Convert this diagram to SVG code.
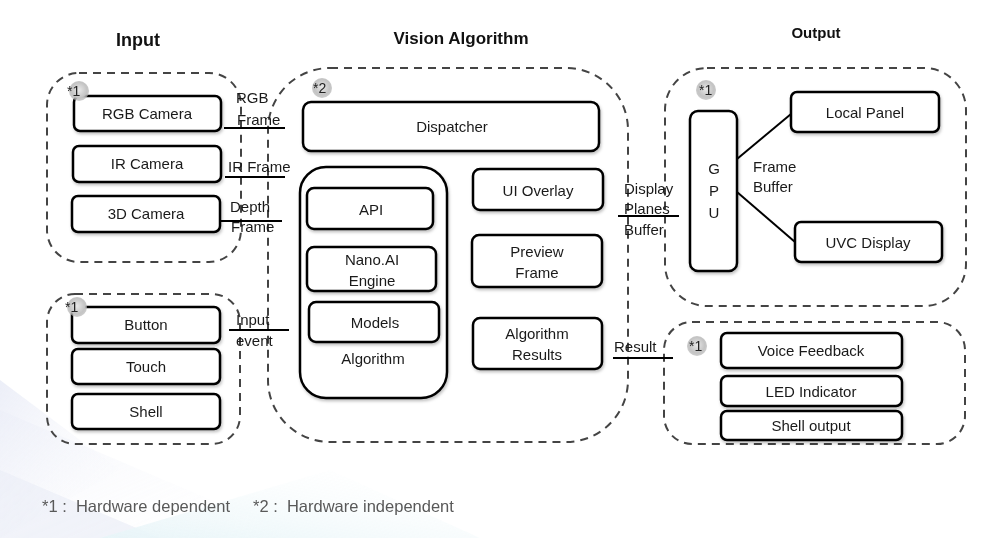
<svg xmlns="http://www.w3.org/2000/svg" width="1003" height="538" viewBox="0 0 1003 538">
<style>
  text { font-family: "Liberation Sans", Arial, sans-serif; fill: #1a1a1a; }
  .t { font-size: 15px; text-anchor: middle; }
  .lbl { font-size: 15px; }
  .title { font-size: 17px; font-weight: bold; text-anchor: middle; fill: #111; }
  .grp { fill: none; stroke: #444; stroke-width: 2; stroke-dasharray: 8 6; }
  .box { fill: #fff; stroke: #000; stroke-width: 2.5; filter: url(#sh); }
  .ln { stroke: #000; stroke-width: 2; fill: none; }
  .badge { fill: url(#bg); }
  .bt { font-size: 14px; fill: #222; }
  .foot { font-size: 16.5px; fill: #595959; }
</style>
<defs>
  <filter id="sh" x="-10%" y="-10%" width="130%" height="140%">
    <feDropShadow dx="1" dy="2" stdDeviation="1.5" flood-color="#000" flood-opacity="0.25"/>
  </filter>
  <radialGradient id="bg" cx="50%" cy="45%" r="55%">
    <stop offset="0" stop-color="#e8e8e8"/>
    <stop offset="0.7" stop-color="#c4c4c4"/>
    <stop offset="1" stop-color="#b0b0b0" stop-opacity="0.6"/>
  </radialGradient>
  <linearGradient id="bgf" x1="0" y1="0" x2="1" y2="1">
    <stop offset="0" stop-color="#dfe3f3"/>
    <stop offset="1" stop-color="#ffffff" stop-opacity="0"/>
  </linearGradient>
  <linearGradient id="bgf2" x1="0" y1="1" x2="1" y2="0">
    <stop offset="0" stop-color="#d2ecf2"/>
    <stop offset="1" stop-color="#ffffff" stop-opacity="0"/>
  </linearGradient>
</defs>
<rect width="1003" height="538" fill="#fff"/>
<g id="background" opacity="0.6">
  <polygon points="0,380 120,470 0,538" fill="url(#bgf)"/>
  <polygon points="0,470 160,538 0,538" fill="#d9def0" opacity="0.7"/>
  <polygon points="100,538 330,470 480,538" fill="url(#bgf2)"/>
  <polygon points="0,410 300,538 0,538" fill="url(#bgf)" opacity="0.6"/>
</g>

<g id="titles">
  <text class="title" x="138" y="46" style="font-size:18px">Input</text>
  <text class="title" x="461" y="44">Vision Algorithm</text>
  <text class="title" x="816" y="38" style="font-size:15px">Output</text>
</g>

<g id="groups">
  <rect id="input-cameras" class="grp" x="47" y="73" width="194" height="189" rx="32"/>
  <rect id="input-events" class="grp" x="47" y="294" width="193" height="150" rx="28"/>
  <rect id="vision-algorithm" class="grp" x="268" y="68" width="360" height="374" rx="62"/>
  <rect id="output-display" class="grp" x="665" y="68" width="301" height="238" rx="42"/>
  <rect id="output-feedback" class="grp" x="664" y="322" width="301" height="122" rx="28"/>
</g>

<g id="connectors">
  <line class="ln" x1="224" y1="128" x2="285" y2="128"/>
  <line class="ln" x1="225" y1="177" x2="285" y2="177"/>
  <line class="ln" x1="220" y1="221" x2="282" y2="221"/>
  <line class="ln" x1="229" y1="330" x2="289" y2="330"/>
  <line class="ln" x1="618" y1="216" x2="679" y2="216"/>
  <line class="ln" x1="613" y1="358" x2="673" y2="358"/>
  <line class="ln" x1="737" y1="159" x2="791" y2="114"/>
  <line class="ln" x1="737" y1="192" x2="795" y2="242"/>
  <text class="lbl" x="236" y="103">RGB</text>
  <text class="lbl" x="237" y="125">Frame</text>
  <text class="lbl" x="228" y="172">IR Frame</text>
  <text class="lbl" x="230" y="212">Depth</text>
  <text class="lbl" x="231" y="232">Frame</text>
  <text class="lbl" x="236" y="325">Input</text>
  <text class="lbl" x="236" y="346">event</text>
  <text class="lbl" x="624" y="194">Display</text>
  <text class="lbl" x="624" y="214">Planes</text>
  <text class="lbl" x="624" y="235">Buffer</text>
  <text class="lbl" x="614" y="352">Result</text>
  <text class="lbl" x="753" y="172">Frame</text>
  <text class="lbl" x="753" y="192">Buffer</text>
</g>

<g id="rgb-camera"><rect class="box" x="74" y="96" width="147" height="35" rx="6"/><text class="t" x="147" y="119">RGB Camera</text></g>
<g id="ir-camera"><rect class="box" x="73" y="146" width="148" height="36" rx="6"/><text class="t" x="147" y="169">IR Camera</text></g>
<g id="3d-camera"><rect class="box" x="72" y="196" width="148" height="36" rx="6"/><text class="t" x="146" y="219">3D Camera</text></g>

<g id="button"><rect class="box" x="72" y="307" width="148" height="36" rx="6"/><text class="t" x="146" y="330">Button</text></g>
<g id="touch"><rect class="box" x="72" y="349" width="148" height="35" rx="6"/><text class="t" x="146" y="372">Touch</text></g>
<g id="shell"><rect class="box" x="72" y="394" width="148" height="35" rx="6"/><text class="t" x="146" y="417">Shell</text></g>

<g id="dispatcher"><rect class="box" x="303" y="102" width="296" height="49" rx="8"/><text class="t" x="452" y="132">Dispatcher</text></g>
<g id="algorithm"><rect class="box" x="300" y="167" width="147" height="231" rx="26"/><text class="t" x="373" y="364">Algorithm</text></g>
<g id="api"><rect class="box" x="307" y="188" width="126" height="41" rx="7"/><text class="t" x="371" y="215">API</text></g>
<g id="nano-ai-engine"><rect class="box" x="307" y="247" width="129" height="44" rx="7"/><text class="t" x="372" y="265">Nano.AI</text><text class="t" x="372" y="286">Engine</text></g>
<g id="models"><rect class="box" x="309" y="302" width="130" height="40" rx="7"/><text class="t" x="375" y="328">Models</text></g>
<g id="ui-overlay"><rect class="box" x="473" y="169" width="130" height="41" rx="7"/><text class="t" x="538" y="196">UI Overlay</text></g>
<g id="preview-frame"><rect class="box" x="472" y="235" width="130" height="52" rx="7"/><text class="t" x="537" y="257">Preview</text><text class="t" x="537" y="278">Frame</text></g>
<g id="algorithm-results"><rect class="box" x="473" y="318" width="129" height="51" rx="7"/><text class="t" x="537" y="339">Algorithm</text><text class="t" x="537" y="360">Results</text></g>

<g id="gpu"><rect class="box" x="690" y="111" width="47" height="160" rx="8"/><text class="t" x="714" y="174">G</text><text class="t" x="714" y="196">P</text><text class="t" x="714" y="218">U</text></g>
<g id="local-panel"><rect class="box" x="791" y="92" width="148" height="40" rx="6"/><text class="t" x="865" y="118">Local Panel</text></g>
<g id="uvc-display"><rect class="box" x="795" y="222" width="147" height="40" rx="6"/><text class="t" x="868" y="248">UVC Display</text></g>

<g id="voice-feedback"><rect class="box" x="721" y="333" width="181" height="35" rx="6"/><text class="t" x="811" y="356">Voice Feedback</text></g>
<g id="led-indicator"><rect class="box" x="721" y="376" width="181" height="30" rx="6"/><text class="t" x="811" y="397">LED Indicator</text></g>
<g id="shell-output"><rect class="box" x="721" y="411" width="181" height="29" rx="6"/><text class="t" x="811" y="431">Shell output</text></g>

<g id="badges">
  <circle class="badge" cx="79" cy="91" r="10"/><text class="bt" x="67" y="96">*1</text>
  <circle class="badge" cx="77" cy="307" r="10"/><text class="bt" x="65" y="312">*1</text>
  <circle class="badge" cx="322" cy="88" r="10"/><text class="bt" x="313" y="93">*2</text>
  <circle class="badge" cx="706" cy="90" r="10"/><text class="bt" x="699" y="95">*1</text>
  <circle class="badge" cx="697" cy="346" r="10"/><text class="bt" x="689" y="351">*1</text>
</g>

<text class="foot" x="42" y="512" xml:space="preserve">*1 :  Hardware dependent     *2 :  Hardware independent</text>
</svg>
